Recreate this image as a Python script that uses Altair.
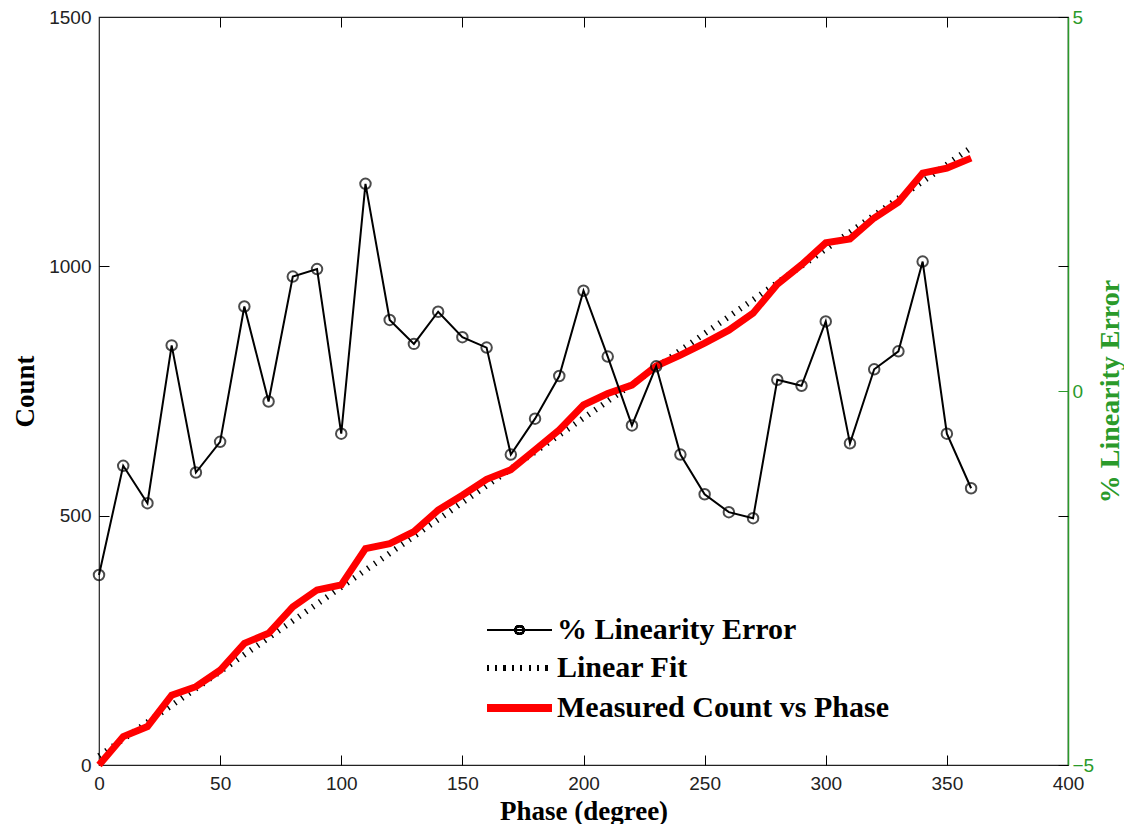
import altair as alt
import pandas as pd

# ---- data ----
phase = [0, 10, 20, 30, 40, 50, 60, 70, 80, 90, 100, 110, 120, 130, 140, 150, 160, 170, 180,
         190, 200, 210, 220, 230, 240, 250, 260, 270, 280, 290, 300, 310, 320, 330, 340, 350, 360]
measured_count = [0, 57, 77, 140, 157, 190, 244, 264, 317, 351, 361, 434, 444, 468, 511, 541, 573,
                  592, 632, 672, 722, 745, 762, 800, 822, 846, 872, 906, 964, 1003, 1047, 1055,
                  1097, 1129, 1187, 1197, 1217]
linearity_error = [-2.46, -1.00, -1.50, 0.61, -1.09, -0.68, 1.13, -0.14, 1.53, 1.63, -0.57, 2.77,
                   0.95, 0.63, 1.06, 0.72, 0.58, -0.85, -0.37, 0.20, 1.34, 0.46, -0.46, 0.33,
                   -0.85, -1.38, -1.62, -1.70, 0.15, 0.07, 0.93, -0.70, 0.29, 0.53, 1.73, -0.57,
                   -1.30]
fit_phase = [0, 360]
fit_count = [18, 1238]

x_ticks = [0, 50, 100, 150, 200, 250, 300, 350, 400]
count_ticks = [0, 500, 1000, 1500]
err_ticks = [-5, 0, 5]
legend_labels = ["% Linearity Error", "Linear Fit", "Measured Count vs Phase"]

GREEN = "#2a9a2a"
SERIF = "Liberation Serif"
SANS = "Liberation Sans"

df = pd.DataFrame({"phase": phase, "count": measured_count, "err": linearity_error})
fit = pd.DataFrame({"phase": fit_phase, "count": fit_count})

xs = alt.Scale(domain=[0, 400], nice=False, zero=False)
ycs = alt.Scale(domain=[0, 1500], nice=False)
yes = alt.Scale(domain=[-5, 5], nice=False)


def tick_axis(orient, values, color="black"):
    return alt.Axis(orient=orient, offset=-10, tickSize=10, ticks=True, labels=False,
                    domain=False, title=None, values=values, grid=False,
                    tickColor=color, tickWidth=1)


inner_x = [50, 100, 150, 200, 250, 300, 350]

# Linear fit (hatched)
fit_layer = alt.Chart(fit).mark_line(
    color="black", strokeWidth=6, strokeDash=[1.4, 7], strokeCap="butt"
).encode(
    x=alt.X("phase:Q", scale=xs, axis=tick_axis("bottom", inner_x)),
    y=alt.Y("count:Q", scale=ycs, axis=tick_axis("left", [500, 1000])),
)

# Measured count (red)
red_layer = alt.Chart(df).mark_line(color="#ff0000", strokeWidth=7).encode(
    x=alt.X("phase:Q", scale=xs, axis=alt.Axis(
        orient="bottom", values=x_ticks, ticks=False, domain=False, labelPadding=9,
        labelFlush=False, format="d", title="Phase (degree)", titleFont=SERIF,
        titleFontWeight="bold", titleFontSize=27, titlePadding=5, titleColor="black",
        grid=False)),
    y=alt.Y("count:Q", scale=ycs, axis=alt.Axis(
        orient="left", values=count_ticks, ticks=False, domain=False, labelPadding=8,
        labelFlush=False, format="d", title="Count", titleFont=SERIF, titleFontWeight="bold",
        titleFontSize=27, titlePadding=9, titleColor="black", grid=False)),
)

# % Linearity error line
err_line = alt.Chart(df).mark_line(color="black", strokeWidth=2).encode(
    x=alt.X("phase:Q", scale=xs, axis=tick_axis("top", inner_x)),
    y=alt.Y("err:Q", scale=yes, axis=alt.Axis(
        orient="right", values=err_ticks, ticks=False, domain=True, domainColor=GREEN,
        domainWidth=1.5, labelColor=GREEN, labelPadding=4, labelFlush=False, format="d",
        title="% Linearity Error", titleAngle=270, titleFont=SERIF, titleFontWeight="bold",
        titleFontSize=28, titleColor=GREEN, titlePadding=31, grid=False)),
)

err_pts = alt.Chart(df).mark_point(
    shape="circle", filled=False, color="black", size=110, strokeWidth=2
).encode(
    x=alt.X("phase:Q", scale=xs, axis=None),
    y=alt.Y("err:Q", scale=yes, axis=alt.Axis(
        orient="right", offset=-10, tickSize=10, ticks=True, labels=False, domain=False,
        title=None, grid=False, values=[-5, -5 / 3, 0, 5 / 3, 5], tickWidth=1,
        tickColor={"condition": {"test": "datum.value === 0", "value": GREEN},
                   "value": "black"})),
)

# ---- legend (inside the plot) ----
LX0, LX1, LT = 388, 453, 458
rows = [613, 651, 691]

leg1_line = alt.Chart(df).mark_rule(color="black", strokeWidth=2).encode(
    x=alt.value(LX0), x2=alt.value(LX1), y=alt.value(rows[0]))
leg1_pt = alt.Chart(df).mark_point(shape="circle", filled=False, color="black", size=64,
                                   strokeWidth=2).encode(
    x=alt.value((LX0 + LX1) / 2), y=alt.value(rows[0]))
leg2_line = alt.Chart(df).mark_rule(color="black", strokeWidth=6, strokeDash=[1.4, 7],
                                    strokeCap="butt").encode(
    x=alt.value(LX0), x2=alt.value(LX1), y=alt.value(rows[1]))
leg3_line = alt.Chart(df).mark_rule(color="#ff0000", strokeWidth=7).encode(
    x=alt.value(LX0), x2=alt.value(LX1), y=alt.value(rows[2]))

leg_texts = [
    alt.Chart(pd.DataFrame({"t": [lab]})).mark_text(
        align="left", baseline="middle", font=SERIF, fontWeight="bold", fontSize=30,
        color="black").encode(text="t:N", x=alt.value(LT), y=alt.value(r))
    for lab, r in zip(legend_labels, rows)
]

chart = alt.layer(
    fit_layer, red_layer, err_line, err_pts,
    leg1_line, leg1_pt, leg2_line, leg3_line, *leg_texts
).resolve_scale(
    x="independent", y="independent"
).resolve_axis(
    x="independent", y="independent"
).properties(
    width=969, height=748,
    autosize=alt.AutoSizeParams(type="none"),
    padding={"left": 91, "top": 9, "right": 56, "bottom": 59},
).configure_view(
    stroke="#222222", strokeWidth=1.2
).configure_axis(
    labelFont=SANS, labelFontSize=19, labelColor="#222222", grid=False
)

chart.save("out.html", embed_options={"renderer": "svg", "actions": False})
